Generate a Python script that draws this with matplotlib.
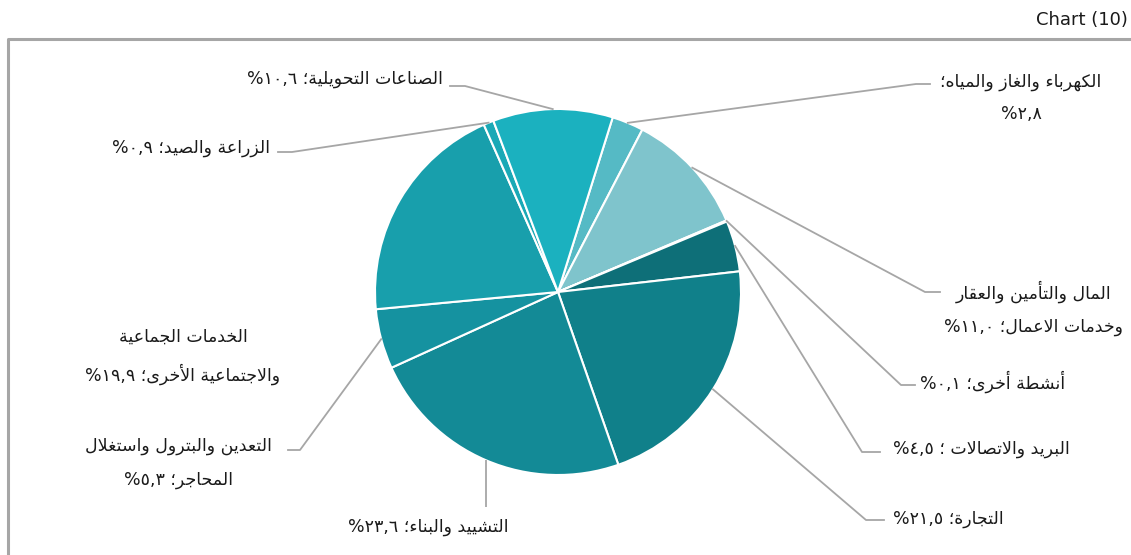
import re
import matplotlib
matplotlib.use('Agg')
import matplotlib.pyplot as plt
import numpy as np

W, H = 1131, 555

# sectors in drawing order (clockwise from the top right)
sectors = ['الكهرباء والغاز والمياه', 'المال والتأمين والعقار وخدمات الاعمال', 'أنشطة أخرى',
           'البريد والاتصالات', 'التجارة', 'التشييد والبناء',
           'التعدين والبترول واستغلال المحاجر', 'الخدمات الجماعية والاجتماعية الأخرى',
           'الزراعة والصيد', 'الصناعات التحويلية']
shares = [2.8, 11.0, 0.1, 4.5, 21.5, 23.6, 5.3, 19.9, 0.9, 10.6]
colors = ['#55bac5', '#7fc4cc', '#e6f4f6', '#0e6f78', '#10808a',
          '#138a96', '#1592a0', '#189fac', '#1aa9b6', '#1bb1bf']
# label text, one entry per line, {n} is the value
label_lines = [
    ['الكهرباء والغاز والمياه؛', '{n}%'],
    ['المال والتأمين والعقار', 'وخدمات الاعمال؛ {n}%'],
    ['أنشطة أخرى؛ {n}%'],
    ['البريد والاتصالات ؛ {n}%'],
    ['التجارة؛ {n}%'],
    ['التشييد والبناء؛ {n}%'],
    ['التعدين والبترول واستغلال', 'المحاجر؛ {n}%'],
    ['الخدمات الجماعية', 'والاجتماعية الأخرى؛ {n}%'],
    ['الزراعة والصيد؛ {n}%'],
    ['الصناعات التحويلية؛ {n}%'],
]

# --- tiny arabic shaper (presentation forms) + rtl ordering ---
_base = [('ء', 0xFE80, 1), ('آ', 0xFE81, 2), ('أ', 0xFE83, 2), ('ؤ', 0xFE85, 2),
         ('إ', 0xFE87, 2), ('ئ', 0xFE89, 4), ('ا', 0xFE8D, 2), ('ب', 0xFE8F, 4),
         ('ة', 0xFE93, 2), ('ت', 0xFE95, 4), ('ث', 0xFE99, 4), ('ج', 0xFE9D, 4),
         ('ح', 0xFEA1, 4), ('خ', 0xFEA5, 4), ('د', 0xFEA9, 2), ('ذ', 0xFEAB, 2),
         ('ر', 0xFEAD, 2), ('ز', 0xFEAF, 2), ('س', 0xFEB1, 4), ('ش', 0xFEB5, 4),
         ('ص', 0xFEB9, 4), ('ض', 0xFEBD, 4), ('ط', 0xFEC1, 4), ('ظ', 0xFEC5, 4),
         ('ع', 0xFEC9, 4), ('غ', 0xFECD, 4), ('ف', 0xFED1, 4), ('ق', 0xFED5, 4),
         ('ك', 0xFED9, 4), ('ل', 0xFEDD, 4), ('م', 0xFEE1, 4), ('ن', 0xFEE5, 4),
         ('ه', 0xFEE9, 4), ('و', 0xFEED, 2), ('ى', 0xFEEF, 2), ('ي', 0xFEF1, 4)]
FORMS = {c: (b, n) for c, b, n in _base}
LAMALEF = {'آ': 0xFEF5, 'أ': 0xFEF7, 'إ': 0xFEF9, 'ا': 0xFEFB}


def jn(c):
    return FORMS.get(c, (0, 0))[1]


def shape(s):
    out = []
    i = 0
    while i < len(s):
        c = s[i]
        if c not in FORMS:
            out.append(c)
            i += 1
            continue
        prev = s[i - 1] if i > 0 else ''
        nxt = s[i + 1] if i + 1 < len(s) else ''
        join_prev = jn(prev) == 4 and jn(c) >= 2
        if c == 'ل' and nxt in LAMALEF:
            out.append(chr(LAMALEF[nxt] + (1 if join_prev else 0)))
            i += 2
            continue
        join_next = jn(c) == 4 and jn(nxt) >= 2
        base, n = FORMS[c]
        if join_prev and join_next:
            f = 3
        elif join_prev:
            f = 1
        elif join_next:
            f = 2
        else:
            f = 0
        if f >= n:
            f = 1 if join_prev and n >= 2 else 0
        out.append(chr(base + f))
        i += 1
    return ''.join(out)


def rtl(s):
    s = shape(s)
    toks = re.findall(r'[٠-٩](?:[٠-٩,]*[٠-٩])?|[^٠-٩]+', s)
    toks = [t if re.match('[٠-٩]', t) else t[::-1] for t in toks]
    return ''.join(toks[::-1])


def arabic_num(v):
    return f'{v:.1f}'.replace('.', ',').translate(str.maketrans('0123456789', '٠١٢٣٤٥٦٧٨٩'))


def py(y):
    return H - y


fig = plt.figure(figsize=(W / 100, H / 100), dpi=100)
ax = fig.add_axes([0, 0, 1, 1])

cx, cy, r = 558, py(292), 183
wedges, _ = ax.pie(shares, colors=colors, startangle=72.6, counterclock=False,
                   center=(cx, cy), radius=r, frame=True,
                   wedgeprops=dict(edgecolor='white', linewidth=1.5))
ax.set_xlim(0, W)
ax.set_ylim(0, H)
ax.set_aspect('auto')
ax.axis('off')

# layout per label: (elbow x, elbow y, end x, text x, text y, ha)
layout = [
    (916, 84, 930, 1021, 98, 'center'),
    (925, 292, 940, 1034, 308, 'center'),
    (901, 385, 915, 920, 382, 'left'),
    (862, 452, 880, 893, 449, 'left'),
    (866, 520, 884, 893, 519, 'left'),
    (None, 507, None, 428, 527, 'center'),
    (300, 450, 288, 178, 463, 'center'),
    (None, None, None, 183, 356, 'center'),
    (292, 152, 278, 270, 148, 'right'),
    (465, 86, 450, 443, 79, 'right'),
]

lc = '#a6a6a6'
for w, v, lines, (ex, ey, endx, tx, ty, ha) in zip(wedges, shares, label_lines, layout):
    mid = np.deg2rad((w.theta1 + w.theta2) / 2)
    sx, sy = cx + r * np.cos(mid), cy + r * np.sin(mid)
    if ey is not None:
        if ex is None:
            ax.plot([sx, sx], [sy, py(ey)], color=lc, lw=1.3, solid_capstyle='butt')
        else:
            ax.plot([sx, ex, endx], [sy, py(ey), py(ey)], color=lc, lw=1.3)
    txt = '\n'.join(rtl(t.format(n=arabic_num(v))) for t in lines)
    ax.text(tx, py(ty), txt, ha=ha, va='center', multialignment='center',
            fontsize=12.5, color='#1a1a1a', linespacing=2.05, family='DejaVu Sans')

# outer frame (continues past the right and bottom edges)
ax.plot([8, 8, W + 5], [-5, py(39), py(39)], color='#a6a6a6', lw=2.2, clip_on=False)
ax.text(W - 3, py(20), 'Chart (10)', ha='right', va='center', fontsize=13, color='#1a1a1a')

fig.savefig('out.png', dpi=100)
